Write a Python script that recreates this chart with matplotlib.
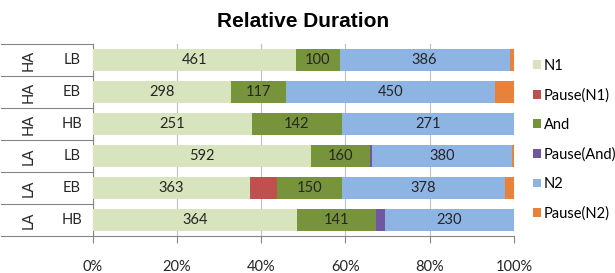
import matplotlib
matplotlib.use("Agg")
import matplotlib.pyplot as plt
import numpy as np
from matplotlib.patches import Patch

groups = ['HA', 'HA', 'HA', 'LA', 'LA', 'LA']
subs = ['LB', 'EB', 'HB', 'LB', 'EB', 'HB']
series = ['N1', 'Pause(N1)', 'And', 'Pause(And)', 'N2', 'Pause(N2)']
N1 = [461, 298, 251, 592, 363, 364]
P_N1 = [0, 0, 0, 0, 62, 0]
AND = [100, 117, 142, 160, 150, 141]
P_AND = [0, 0, 0, 5, 0, 15]
N2 = [386, 450, 271, 380, 378, 230]
P_N2 = [10, 41, 0, 4, 20, 0]
xticklabels = ['0%', '20%', '40%', '60%', '80%', '100%']

colors = ['#D7E4BD', '#C0504D', '#77933C', '#7058A0', '#8DB4E2', '#E8823A']
labeled = [True, False, True, False, True, False]

data = np.array([N1, P_N1, AND, P_AND, N2, P_N2], dtype=float)
tot = data.sum(axis=0)
pct = data / tot * 100

fnt = 'Lato'
fs = 10.5
fig = plt.figure(figsize=(6.15, 2.73), dpi=100)
ax = fig.add_axes([0.1507, 0.1355, 0.685, 0.7033])

y = np.arange(len(groups))
left = np.zeros(len(groups))
for i, name in enumerate(series):
    ax.barh(y, pct[i], left=left, height=0.68, color=colors[i], label=name, zorder=3)
    if labeled[i]:
        for j in range(len(groups)):
            ax.text(left[j] + pct[i][j] / 2, y[j], f"{int(data[i][j])}", ha='center', va='center',
                    fontsize=fs, family=fnt, color='#262626', zorder=4)
    left = left + pct[i]

ax.set_xlim(0, 100)
ax.set_ylim(len(groups) - 0.5, -0.5)
ax.set_xticks(np.arange(0, 101, 20))
ax.set_xticklabels(xticklabels, family=fnt, fontsize=fs, color='#262626')
ax.set_yticks([])
ax.xaxis.grid(True, color='#BFBFBF', lw=0.8, zorder=0)
ax.set_axisbelow(True)
for s in ['top', 'right']:
    ax.spines[s].set_visible(False)
for s in ['left', 'bottom']:
    ax.spines[s].set_color('#868686')
    ax.spines[s].set_linewidth(0.8)
ax.tick_params(axis='x', direction='out', length=5, color='#868686', width=0.8, pad=12)

tr = ax.get_yaxis_transform()
for b in np.arange(-0.5, len(groups)):
    ax.plot([-0.218, 0], [b, b], transform=tr, clip_on=False, color='#868686', lw=0.8)
for j in range(len(groups)):
    ax.text(-0.151, y[j], groups[j], transform=tr, rotation=90, ha='center', va='center',
            fontsize=fs, family=fnt, color='#262626')
    ax.text(-0.049, y[j], subs[j], transform=tr, ha='center', va='center',
            fontsize=fs, family=fnt, color='#262626')

ax.set_title('Relative Duration', family='Liberation Sans', fontweight='bold', fontsize=15, pad=12)

handles = [Patch(facecolor=c, edgecolor='none') for c in colors]
fig.legend(handles, series, loc='upper left', bbox_to_anchor=(0.866, 0.785), frameon=False,
           prop={'family': fnt, 'size': 10.5}, handlelength=0.55, handleheight=0.55,
           handletextpad=0.2, labelspacing=1.06, borderpad=0, borderaxespad=0)

fig.savefig('out.png', dpi=100)
